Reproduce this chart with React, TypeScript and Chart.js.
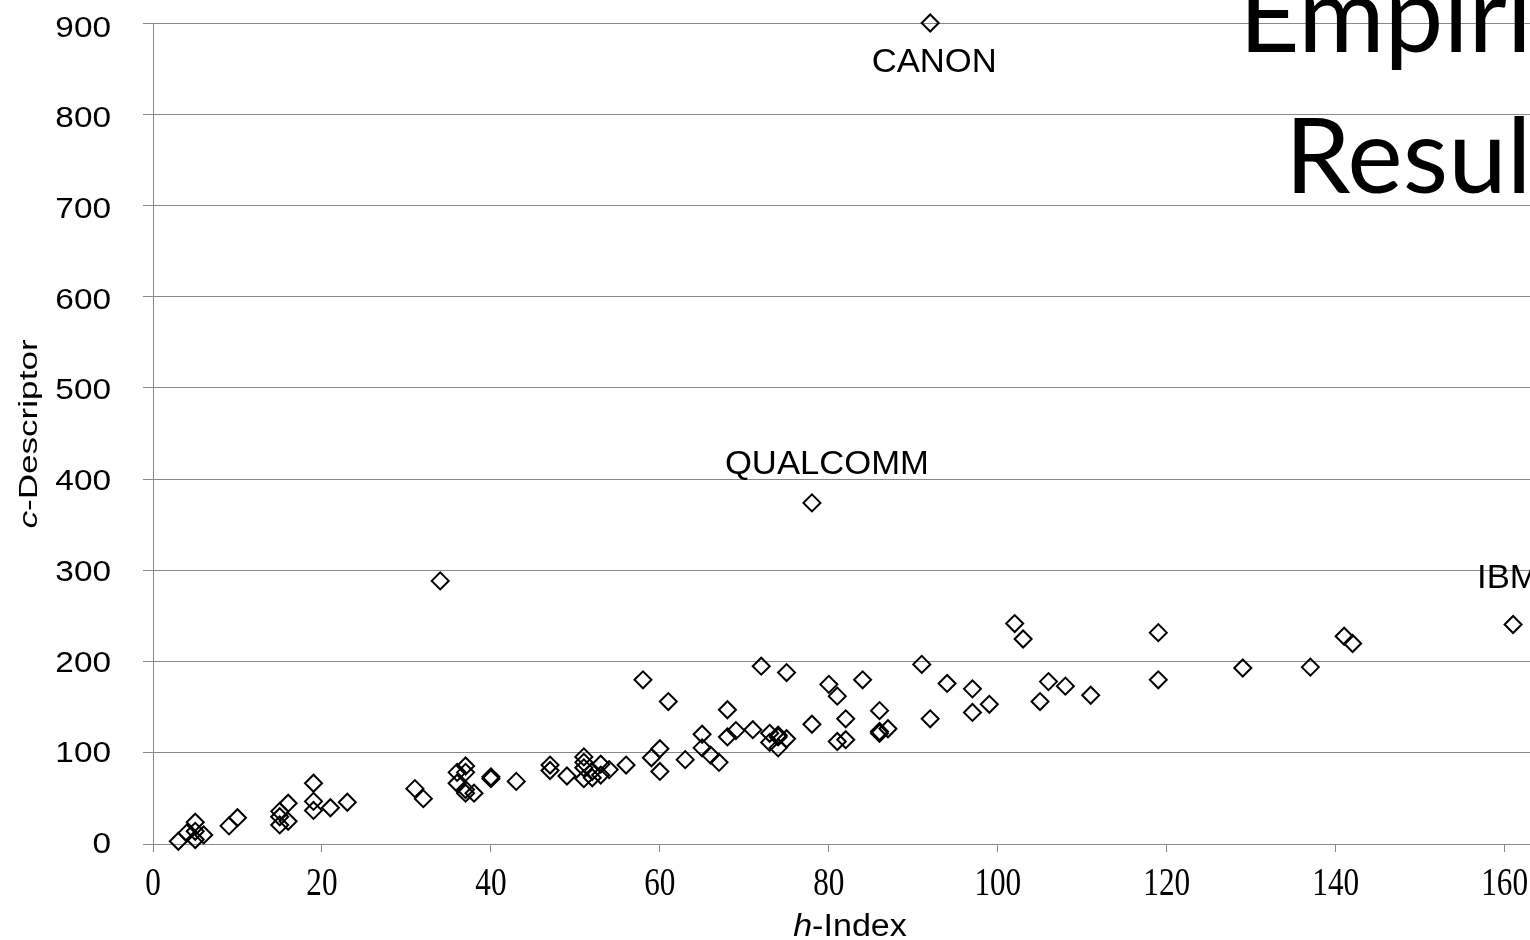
import React, { useEffect, useRef } from "react";
import { Chart, registerables } from "chart.js";

Chart.register(...registerables);

// h-Index of each company
const H_INDEX = [
  3, 4, 5, 5, 5, 6,
  9, 10,
  15, 15, 15, 16, 16,
  19, 19, 19, 21, 23,
  31, 32,
  34,
  36, 37, 37, 36, 37, 37, 38,
  40, 40,
  43,
  47, 47,
  49,
  51, 51, 51, 51,
  52, 52,
  53, 53,
  54,
  56,
  58,
  59,
  60, 60,
  61,
  63,
  65, 65,
  66,
  67,
  68, 68,
  69,
  71,
  72,
  73, 73,
  74, 74, 74,
  75, 75,
  78, 78,
  80,
  81, 81,
  82, 82,
  84,
  86, 86, 86,
  87,
  91,
  92, 92,
  94,
  97, 97,
  99,
  102, 103,
  105, 106,
  108,
  111,
  119, 119,
  129,
  137,
  141, 142,
  161,
];

// c-Descriptor of each company
const C_DESCRIPTOR = [
  3, 12, 24, 5, 14, 10,
  20, 29,
  21, 36, 30, 45, 25,
  67, 47, 37, 40, 46,
  61, 50,
  290,
  79, 86, 79, 67, 60, 56, 56,
  74, 72,
  69,
  87, 81,
  75,
  96, 90, 84, 72,
  80, 73,
  88, 76,
  82,
  87,
  181,
  95,
  105, 80,
  157,
  93,
  121, 106,
  98,
  90,
  148, 118,
  125,
  126,
  196,
  122, 112,
  120, 106, 118,
  116, 189,
  376, 132,
  176,
  163, 113,
  138, 115,
  181,
  147, 124, 122,
  127,
  198,
  905, 138,
  177,
  171, 145,
  154,
  243, 226,
  157, 179,
  174,
  164,
  233, 181,
  194,
  195,
  229, 221,
  242,
];

const X_TICKS = [0, 20, 40, 60, 80, 100, 120, 140, 160];
const Y_TICKS = [0, 100, 200, 300, 400, 500, 600, 700, 800, 900];

const LABEL_NAMES = ["CANON", "QUALCOMM", "IBM"];
const LABEL_H = [92, 78, 161];
const LABEL_C = [905, 376, 242];

const TITLE_LINES = ["Empirical", "Results"];
const X_TITLE = ["h", "-Index"];
const Y_TITLE = ["c", "-Descriptor"];

// label offsets (px) relative to the labelled point: dx, dy, align
const LABEL_OFFSETS: [number, number, CanvasTextAlign][] = [
  [4, 40, "center"],
  [15, -38, "center"],
  [-36, -46, "left"],
];

function drawScaled(
  ctx: CanvasRenderingContext2D,
  text: string,
  x: number,
  y: number,
  sx: number,
  align: CanvasTextAlign
) {
  ctx.save();
  ctx.translate(x, y);
  ctx.scale(sx, 1);
  ctx.textAlign = align;
  ctx.fillText(text, 0, 0);
  ctx.restore();
}

const textPlugin = {
  id: "textPlugin",
  afterDraw(chart: any) {
    const ctx: CanvasRenderingContext2D = chart.ctx;
    const xs = chart.scales.x;
    const ys = chart.scales.y;
    ctx.save();
    ctx.fillStyle = "#000";

    // y tick labels
    ctx.font = "29px 'Liberation Sans'";
    ctx.textBaseline = "middle";
    Y_TICKS.forEach((v) => {
      drawScaled(ctx, String(v), 111, ys.getPixelForValue(v) + 1, 1.15, "right");
    });

    // x tick labels
    ctx.font = "40px 'Liberation Serif'";
    ctx.textBaseline = "middle";
    X_TICKS.forEach((v) => {
      drawScaled(ctx, String(v), xs.getPixelForValue(v), 884, 0.78, "center");
    });

    // x title
    {
      const sx = 1.1;
      ctx.textBaseline = "alphabetic";
      ctx.font = "italic 31px 'Liberation Sans'";
      const w1 = ctx.measureText(X_TITLE[0]).width;
      ctx.font = "31px 'Liberation Sans'";
      const w2 = ctx.measureText(X_TITLE[1]).width;
      const total = (w1 + w2) * sx;
      const cx = 850;
      ctx.save();
      ctx.translate(cx - total / 2, 936);
      ctx.scale(sx, 1);
      ctx.textAlign = "left";
      ctx.font = "italic 31px 'Liberation Sans'";
      ctx.fillText(X_TITLE[0], 0, 0);
      ctx.font = "31px 'Liberation Sans'";
      ctx.fillText(X_TITLE[1], w1, 0);
      ctx.restore();
    }

    // y title
    {
      const sx = 1.35;
      ctx.textBaseline = "middle";
      ctx.font = "italic 26px 'Liberation Sans'";
      const w1 = ctx.measureText(Y_TITLE[0]).width;
      ctx.font = "26px 'Liberation Sans'";
      const w2 = ctx.measureText(Y_TITLE[1]).width;
      ctx.save();
      ctx.translate(30, 434);
      ctx.rotate(-Math.PI / 2);
      ctx.scale(sx, 1);
      ctx.textAlign = "left";
      const start = -(w1 + w2) / 2;
      ctx.font = "italic 26px 'Liberation Sans'";
      ctx.fillText(Y_TITLE[0], start, 0);
      ctx.font = "26px 'Liberation Sans'";
      ctx.fillText(Y_TITLE[1], start + w1, 0);
      ctx.restore();
    }

    // point labels
    ctx.font = "33px 'Liberation Sans'";
    ctx.textBaseline = "middle";
    LABEL_NAMES.forEach((name, i) => {
      const px = xs.getPixelForValue(LABEL_H[i]);
      const py = ys.getPixelForValue(LABEL_C[i]);
      const [dx, dy, align] = LABEL_OFFSETS[i];
      drawScaled(ctx, name, px + dx, py + dy, 1.05, align);
    });

    // slide title (cut off by the page edge)
    ctx.font = "105px Lato";
    ctx.textBaseline = "alphabetic";
    ctx.textAlign = "left";
    ctx.fillText(TITLE_LINES[0], 1239, 52);
    ctx.fillText(TITLE_LINES[1], 1285, 193);

    ctx.restore();
  },
};

export default function App() {
  const canvasRef = useRef<HTMLCanvasElement | null>(null);

  useEffect(() => {
    if (!canvasRef.current) return;
    const points = H_INDEX.map((h, i) => ({ x: h, y: C_DESCRIPTOR[i] }));
    const grid = "#8a8a8a";
    const chart = new Chart(canvasRef.current, {
      type: "scatter",
      data: {
        datasets: [
          {
            data: points,
            pointStyle: "rectRot",
            pointRadius: 8.5,
            pointHoverRadius: 8.5,
            borderColor: "#000",
            backgroundColor: "rgba(0,0,0,0)",
            borderWidth: 2,
            clip: false,
          } as any,
        ],
      },
      options: {
        animation: false,
        responsive: true,
        maintainAspectRatio: false,
        events: [],
        layout: {
          autoPadding: false,
          padding: { left: 143, right: 0, top: 23, bottom: 88 },
        },
        plugins: {
          legend: { display: false },
          tooltip: { enabled: false },
        },
        scales: {
          x: {
            type: "linear",
            bounds: "data",
            min: 0,
            max: 163,
            ticks: { display: false, stepSize: 20, includeBounds: false },
            grid: {
              drawOnChartArea: false,
              drawTicks: true,
              tickLength: 8,
              color: grid,
              lineWidth: 1,
            },
            border: { display: true, color: grid, width: 1 },
          },
          y: {
            type: "linear",
            bounds: "data",
            min: 0,
            max: 905,
            ticks: { display: false, stepSize: 100, includeBounds: false },
            grid: {
              drawOnChartArea: true,
              drawTicks: true,
              tickLength: 10,
              color: grid,
              lineWidth: 1,
            },
            border: { display: true, color: grid, width: 1 },
          },
        },
      },
      plugins: [textPlugin],
    });
    return () => chart.destroy();
  }, []);

  return (
    <div
      style={{
        position: "fixed",
        left: 0,
        top: 0,
        width: 1530,
        height: 940,
        background: "#fff",
      }}
    >
      <canvas ref={canvasRef} />
    </div>
  );
}
